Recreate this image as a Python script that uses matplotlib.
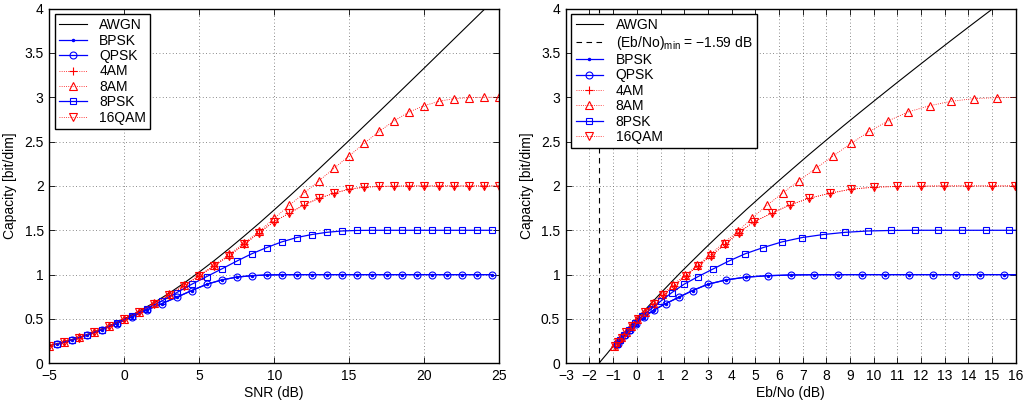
import numpy as np
import matplotlib
matplotlib.use("Agg")
import matplotlib.pyplot as plt
from matplotlib.ticker import FormatStrFormatter

plt.rcParams['font.family'] = ['Liberation Sans', 'DejaVu Sans']
plt.rcParams['mathtext.fontset'] = 'custom'
plt.rcParams['mathtext.rm'] = 'Liberation Sans'
plt.rcParams['mathtext.it'] = 'Liberation Sans:italic'
plt.rcParams['axes.unicode_minus'] = True

# ---------------- data ----------------
awgn_snr_db = [-40, -30, -20, -15, -10, -8, -6, -5, -4, -3, -2, -1, 0, 1, 2, 3, 4, 5, 6, 7, 8, 9,
               10, 11, 12, 13, 14, 15, 16, 17, 18, 19, 20, 21, 22, 23, 24, 25]
awgn_cap = [0.0000721, 0.000721, 0.00718, 0.0225, 0.0688, 0.1061, 0.1617, 0.198, 0.242, 0.293,
            0.353, 0.422, 0.500, 0.588, 0.685, 0.791, 0.906, 1.029, 1.158, 1.294, 1.435, 1.580,
            1.730, 1.882, 2.037, 2.194, 2.354, 2.514, 2.676, 2.838, 3.001, 3.165, 3.329, 3.494,
            3.659, 3.824, 3.989, 4.155]

red_snr_db = [-5, -4, -3, -2, -1, 0, 1, 2, 3, 4, 5, 6, 7, 8, 9, 10, 11, 12, 13, 14, 15,
              16, 17, 18, 19, 20, 21, 22, 23, 24, 25]
am4_cap = [0.196, 0.240, 0.290, 0.350, 0.418, 0.495, 0.580, 0.672, 0.770, 0.875, 0.985,
           1.098, 1.215, 1.340, 1.474, 1.598, 1.693, 1.787, 1.862, 1.918, 1.964, 1.986,
           1.994, 1.998, 2.0, 2.0, 2.0, 2.0, 2.0, 2.0, 2.0]
am8_cap = [0.197, 0.241, 0.291, 0.351, 0.419, 0.497, 0.584, 0.678, 0.778, 0.885, 0.992,
           1.105, 1.228, 1.357, 1.488, 1.635, 1.780, 1.920, 2.060, 2.200, 2.340, 2.480,
           2.615, 2.735, 2.835, 2.905, 2.955, 2.985, 2.996, 3.0, 3.0]
qam16_cap = [0.196, 0.240, 0.290, 0.350, 0.418, 0.495, 0.580, 0.672, 0.770, 0.875, 0.985,
             1.098, 1.215, 1.340, 1.474, 1.598, 1.693, 1.787, 1.862, 1.918, 1.964, 1.986,
             1.994, 1.998, 2.0, 2.0, 2.0, 2.0, 2.0, 2.0, 2.0]

blue_snr_db = [-4.5, -3.5, -2.5, -1.5, -0.5, 0.5, 1.5, 2.5, 3.5, 4.5, 5.5, 6.5, 7.5, 8.5, 9.5,
               10.5, 11.5, 12.5, 13.5, 14.5, 15.5, 16.5, 17.5, 18.5, 19.5, 20.5, 21.5, 22.5,
               23.5, 24.5]
bpsk_cap = [0.214, 0.262, 0.316, 0.378, 0.448, 0.522, 0.600, 0.672, 0.745, 0.820, 0.891,
            0.940, 0.972, 0.988, 0.996, 0.999, 1.0, 1.0, 1.0, 1.0, 1.0, 1.0, 1.0, 1.0, 1.0,
            1.0, 1.0, 1.0, 1.0, 1.0]
qpsk_cap = [0.214, 0.262, 0.316, 0.378, 0.448, 0.522, 0.600, 0.672, 0.745, 0.820, 0.891,
            0.940, 0.972, 0.988, 0.996, 0.999, 1.0, 1.0, 1.0, 1.0, 1.0, 1.0, 1.0, 1.0, 1.0,
            1.0, 1.0, 1.0, 1.0, 1.0]
psk8_cap = [0.215, 0.264, 0.318, 0.381, 0.455, 0.532, 0.615, 0.703, 0.797, 0.891, 0.978,
            1.064, 1.152, 1.235, 1.305, 1.369, 1.418, 1.452, 1.477, 1.492, 1.498, 1.5, 1.5,
            1.5, 1.5, 1.5, 1.5, 1.5, 1.5, 1.5]

ebno_min_db = -1.59

left_xticks = [-5, 0, 5, 10, 15, 20, 25]
right_xticks = list(range(-3, 17))
yticks = [0, 0.5, 1, 1.5, 2, 2.5, 3, 3.5, 4]


def ebno(snr_db, cap):
    s = np.asarray(snr_db, float)
    c = np.asarray(cap, float)
    return s - 10 * np.log10(2 * c)


BLUE = (0, 0, 1)
RED = (1, 0, 0)
FS = 10

fig = plt.figure(figsize=(10.25, 4.01), dpi=100)
axL = fig.add_axes([0.048, 0.094, 0.439, 0.8846])
axR = fig.add_axes([0.552, 0.094, 0.439, 0.8846])


def draw(ax, xf, right):
    ax.plot(xf(awgn_snr_db, awgn_cap), awgn_cap, '-', color='k', lw=0.8, label='AWGN')
    if right:
        ax.plot([ebno_min_db, ebno_min_db], [0, 4], '--', color='k', lw=0.8,
                dashes=(5, 4), label=r'(Eb/No)$_{\mathrm{min}}$ = −1.59 dB')
    ax.plot(xf(blue_snr_db, bpsk_cap), bpsk_cap, '.-', color=BLUE, lw=0.9, ms=3, label='BPSK')
    ax.plot(xf(blue_snr_db, qpsk_cap), qpsk_cap, 'o-', color=BLUE, lw=0.9, ms=5,
            mfc='none', mew=0.8, label='QPSK')
    ax.plot(xf(red_snr_db, am4_cap), am4_cap, '+:', color=RED, lw=0.6, ms=5.5, mew=0.8, label='4AM')
    ax.plot(xf(red_snr_db, am8_cap), am8_cap, '^:', color=RED, lw=0.6, ms=5.5,
            mfc='none', mew=0.8, label='8AM')
    ax.plot(xf(blue_snr_db, psk8_cap), psk8_cap, 's-', color=BLUE, lw=0.9, ms=4.5,
            mfc='none', mew=0.8, label='8PSK')
    ax.plot(xf(red_snr_db, qam16_cap), qam16_cap, 'v:', color=RED, lw=0.6, ms=5.5,
            mfc='none', mew=0.8, label='16QAM')
    ax.set_ylim(0, 4)
    ax.set_yticks(yticks)
    ax.yaxis.set_major_formatter(FormatStrFormatter('%g'))
    ax.grid(True, linestyle=(0, (1, 3)), color='0.4', lw=0.6)
    ax.tick_params(direction='in', top=True, right=True, length=4, width=0.6,
                   labelsize=FS, pad=4)
    for sp in ax.spines.values():
        sp.set_linewidth(1.0)
    ax.set_ylabel('Capacity [bit/dim]', fontsize=FS, labelpad=5)
    leg = ax.legend(loc='upper left', fontsize=FS, frameon=True, fancybox=False,
                    edgecolor='k', framealpha=1, borderaxespad=0.4, labelspacing=0.1,
                    handlelength=2.0, handletextpad=0.9, borderpad=0.3)
    leg.get_frame().set_linewidth(1.0)


draw(axL, lambda s, c: np.asarray(s, float), False)
axL.set_xlim(-5, 25)
axL.set_xticks(left_xticks)
axL.set_xlabel('SNR (dB)', fontsize=FS, labelpad=2)

draw(axR, ebno, True)
axR.set_xlim(-3, 16)
axR.set_xticks(right_xticks)
axR.set_xlabel('Eb/No (dB)', fontsize=FS, labelpad=2)

fig.savefig('out.png', dpi=100)
